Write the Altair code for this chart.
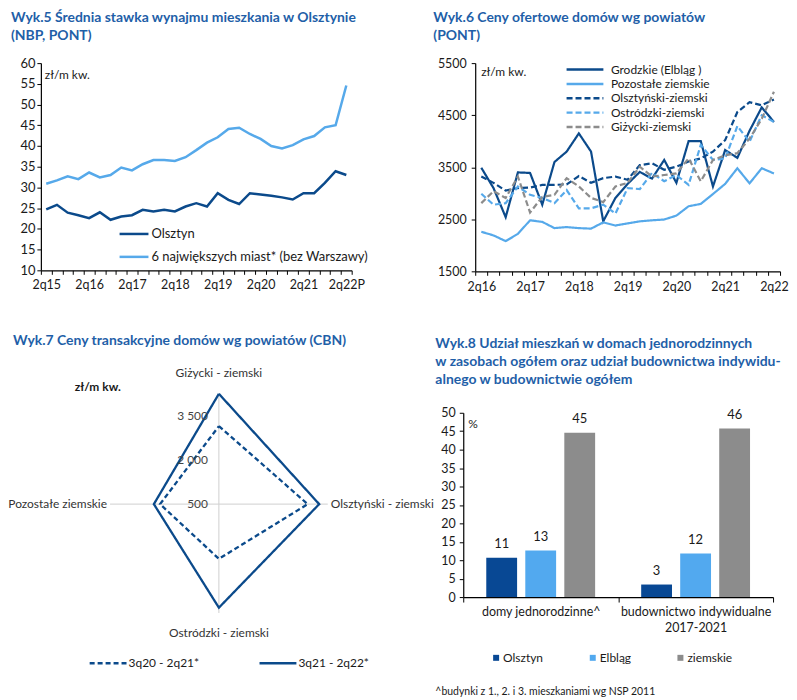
import altair as alt
import pandas as pd

FONT = "Lato"
TITLE_COLOR = "#1f5fa8"
DARK = "#0b4a8b"
LIGHT = "#56a9ea"
GRAY = "#8c8c8c"
TXT = "#1a1a1a"


def quarters(start_q, start_y, n):
    out = []
    for i in range(n):
        k = start_q - 1 + i
        out.append(f"{k % 4 + 1}q{start_y + k // 4}")
    return out


# ---------------- Wyk.5 data
q5 = quarters(2, 15, 29)
q5[-1] = q5[-1] + "P"
olsztyn = [24.7, 25.8, 23.9, 23.3, 22.6, 24.0, 22.2, 23.0, 23.3, 24.6, 24.2, 24.6, 24.2, 25.4,
           26.2, 25.4, 28.6, 27.0, 26.0, 28.6, 28.3, 28.0, 27.6, 27.1, 28.6, 28.6, 31.1, 33.9, 33.0]
miasta6 = [30.9, 31.7, 32.7, 32.0, 33.6, 32.4, 33.0, 34.8, 34.1, 35.6, 36.6, 36.6, 36.4, 37.3,
           39.0, 40.8, 42.1, 44.1, 44.4, 42.9, 41.7, 40.0, 39.4, 40.2, 41.6, 42.4, 44.5, 45.0, 54.6]
series5 = ["Olsztyn", "6 największych miast* (bez Warszawy)"]

# ---------------- Wyk.6 data
q6 = quarters(2, 16, 25)
grodzkie = [3490, 3100, 2540, 3400, 3390, 2780, 3600, 3800, 4150, 3800, 2460, 2910, 3180, 3410,
            3280, 3640, 3200, 4000, 4000, 3130, 3830, 3680, 4200, 4650, 4370]
pozostale = [2260, 2190, 2080, 2220, 2480, 2450, 2330, 2350, 2330, 2320, 2440, 2380, 2420, 2460,
             2480, 2495, 2570, 2750, 2795, 2985, 3180, 3480, 3190, 3480, 3380]
olsztynski = [3320, 3200, 3050, 3100, 3110, 3160, 3160, 3170, 3330, 3200, 3290, 3320, 3260, 3540,
              3575, 3450, 3510, 3610, 3670, 3800, 4020, 4560, 4750, 4690, 4800]
ostrodzki = [2990, 2780, 2810, 3130, 2970, 2910, 2810, 3060, 2710, 2710, 2780, 2610, 3100, 3080,
             3390, 3230, 3350, 3160, 3930, 3640, 3670, 4290, 3990, 4500, 4370]
gizycki = [2810, 3040, 2910, 3320, 2630, 2930, 2970, 3290, 3130, 2910, 2830, 3130, 3200, 3510,
           3320, 3350, 3380, 3670, 3230, 3640, 3730, 3770, 4050, 4430, 4950]
series6 = ["Grodzkie (Elbląg )", "Pozostałe ziemskie", "Olsztyński-ziemski",
           "Ostródzki-ziemski", "Giżycki-ziemski"]

# ---------------- Wyk.7 data
radar_cats = ["Giżycki - ziemski", "Olsztyński - ziemski", "Ostródzki - ziemski", "Pozostałe ziemskie"]
radar_series = ["3q20 - 2q21*", "3q21 - 2q22*"]
radar_prev = [3150, 3520, 2360, 2500]
radar_curr = [4250, 3910, 4020, 2710]
radar_ticks = [500, 2000, 3500]
radar_tick_labels = ["500", "2 000", "3 500"]
radar_min = 500
radar_axis_max = 4200

# ---------------- Wyk.8 data
groups8 = ["domy jednorodzinne^", "budownictwo indywidualne\n2017-2021"]
series8 = ["Olsztyn", "Elbląg", "ziemskie"]
vals8_g1 = [10.7, 12.6, 44.6]
vals8_g2 = [3.4, 11.8, 45.7]
footnote = "^budynki z 1., 2. i 3. mieszkaniami wg NSP 2011"

LINE_SYM_6 = "M-3.08,0H3.08"     # ~37 px stroke at symbolSize 144
LINE_SYM_7 = "M-2.85,0H2.85"     # ~37 px stroke at symbolSize 169
LINE_SYM_5 = "M-2.23,0H2.23"     # ~29 px stroke at symbolSize 169


def title(lines, dx, offset):
    return alt.TitleParams(text=lines, anchor="start", frame="group", dx=dx, offset=offset,
                           fontSize=14, fontWeight="bold", color=TITLE_COLOR, font=FONT,
                           lineHeight=18)


# ================= Chart 5
df5 = pd.DataFrame({"q": q5 * 2, "s": [series5[0]] * len(q5) + [series5[1]] * len(q5),
                    "v": olsztyn + miasta6})
x5 = alt.X("q:N", sort=q5, bandPosition=0.5,
           scale=alt.Scale(type="band", paddingInner=0, paddingOuter=0),
           axis=alt.Axis(title=None, labelAngle=0, tickBand="extent", labelOverlap=False,
                         labelExpr="indexof(datum.label, '2q') == 0 ? datum.label : ''",
                         tickSize=4, labelPadding=4, labelFontSize=12.5))
y5 = alt.Y("v:Q", scale=alt.Scale(domain=[10, 60], nice=False, zero=False),
           axis=alt.Axis(title=None, values=list(range(10, 61, 5)), tickSize=4,
                         labelPadding=2, labelFontSize=13))
lines5 = alt.Chart(df5).mark_line(strokeWidth=2.5).encode(
    x=x5, y=y5,
    color=alt.Color("s:N", sort=series5, scale=alt.Scale(domain=series5, range=[DARK, LIGHT]),
                    legend=alt.Legend(title=None, orient="none", legendX=85.5, legendY=163.5,
                                      symbolType=LINE_SYM_5, symbolSize=169,
                                      symbolStrokeWidth=2.5,
                                      labelFontSize=13, labelFont=FONT, labelColor=TXT,
                                      rowPadding=8, labelOffset=9.5, padding=0, labelLimit=300)))
unit5 = alt.Chart(pd.DataFrame({"t": ["zł/m kw."]})).mark_text(
    align="left", baseline="middle", fontSize=12, color=TXT).encode(
    x=alt.value(4), y=alt.value(12), text="t:N")
c5 = alt.layer(lines5, unit5).properties(
    width=312, height=208,
    title=title(["Wyk.5 Średnia stawka wynajmu mieszkania w Olsztynie", "(NBP, PONT)"], -30, 14))

# ================= Chart 6
df6 = pd.DataFrame({
    "q": q6 * 5,
    "s": sum([[s] * len(q6) for s in series6], []),
    "v": grodzkie + pozostale + olsztynski + ostrodzki + gizycki})
x6 = alt.X("q:N", sort=q6, bandPosition=0.5,
           scale=alt.Scale(type="band", paddingInner=0, paddingOuter=0, range=[12, 318]),
           axis=alt.Axis(title=None, labelAngle=0, tickBand="extent", labelOverlap=False,
                         labelExpr="indexof(datum.label, '2q') == 0 ? datum.label : ''",
                         tickSize=4, labelPadding=5, labelFontSize=12.5))
y6 = alt.Y("v:Q", scale=alt.Scale(domain=[1500, 5500], nice=False, zero=False),
           axis=alt.Axis(title=None, values=[1500, 2500, 3500, 4500, 5500], format="d",
                         tickSize=4, labelPadding=5, labelFontSize=12.5, offset=-12))
leg6 = alt.Legend(title=None, orient="none", legendX=114.7, legendY=-1,
                  symbolType=LINE_SYM_6, symbolSize=144, symbolStrokeWidth=2.5,
                  labelFontSize=12, labelFont=FONT, labelColor=TXT, rowPadding=0.4,
                  labelOffset=18.5, padding=0)
lines6 = alt.Chart(df6).mark_line(strokeWidth=2.2).encode(
    x=x6, y=y6,
    color=alt.Color("s:N", sort=series6,
                    scale=alt.Scale(domain=series6, range=[DARK, LIGHT, DARK, LIGHT, GRAY]),
                    legend=leg6),
    strokeDash=alt.StrokeDash("s:N", sort=series6,
                              scale=alt.Scale(domain=series6,
                                              range=[[1, 0], [1, 0], [6, 3], [6, 3], [6, 3]]),
                              legend=leg6))
unit6 = alt.Chart(pd.DataFrame({"t": ["zł/m kw."]})).mark_text(
    align="left", baseline="middle", fontSize=12, color=TXT).encode(
    x=alt.value(18), y=alt.value(9), text="t:N")
c6 = alt.layer(lines6, unit6).properties(
    width=318, height=209,
    title=title(["Wyk.6 Ceny ofertowe domów wg powiatów", "(PONT)"], -30, 14))

# ================= Chart 7 (radar)
rows = []
for s, vals in zip(radar_series, [radar_prev, radar_curr]):
    for k in range(5):
        rows.append({"s": s, "k": k, "cat": radar_cats[k % 4], "v": vals[k % 4]})
df7 = pd.DataFrame(rows)
df7_axes = pd.DataFrame({"k": list(range(4)), "cat": radar_cats, "v": [radar_axis_max] * 4})
df7_ticks = pd.DataFrame({"k": [0] * len(radar_ticks), "v": radar_ticks, "lab": radar_tick_labels})

XD = [-6051, 4514]
YD = [-3159, 3105]


def polar(ch):
    return ch.transform_calculate(
        a="datum.k * PI / 2", r=f"datum.v - {radar_min}", z="0"
    ).transform_calculate(
        px="datum.r * sin(datum.a)", py="datum.r * cos(datum.a)")


xr = alt.X("px:Q", scale=alt.Scale(domain=XD, nice=False, zero=False), axis=None)
yr = alt.Y("py:Q", scale=alt.Scale(domain=YD, nice=False, zero=False), axis=None)

axes7 = polar(alt.Chart(df7_axes)).mark_rule(color="#cfcfcf", strokeWidth=1).encode(
    x=alt.X("z:Q", scale=alt.Scale(domain=XD, nice=False, zero=False), axis=None),
    y=alt.Y("z:Q", scale=alt.Scale(domain=YD, nice=False, zero=False), axis=None),
    x2="px:Q", y2="py:Q")
radar = polar(alt.Chart(df7)).mark_line(strokeWidth=2.3, color=DARK).encode(
    x=xr, y=yr, order="k:O",
    strokeDash=alt.StrokeDash("s:N", sort=radar_series,
                              scale=alt.Scale(domain=radar_series, range=[[5, 3], [1, 0]]),
                              legend=alt.Legend(title=None, orient="none", legendX=59.5,
                                                legendY=243.5, direction="horizontal",
                                                columns=2, columnPadding=54.5,
                                                symbolType=LINE_SYM_7, symbolSize=169,
                                                symbolStrokeWidth=2.5, symbolStrokeColor=DARK,
                                                labelFontSize=12, labelFont=FONT, labelColor=TXT,
                                                labelOffset=12.5, padding=0)))
ticks7 = polar(alt.Chart(df7_ticks)).mark_text(
    align="right", baseline="middle", dx=-11, fontSize=12, color="#444444").encode(
    x=xr, y=yr, text="lab:N")


def cat_label(k, **kw):
    return polar(alt.Chart(df7_axes)).transform_filter(f"datum.k == {k}").mark_text(
        fontSize=12, color="#333333", **kw).encode(x=xr, y=yr, text="cat:N")


lab_top = cat_label(0, align="center", baseline="middle", dy=-22)
lab_right = cat_label(1, align="left", baseline="middle", dx=3)
lab_bottom = cat_label(2, align="center", baseline="middle", dy=20)
lab_left = cat_label(3, align="right", baseline="middle", dx=-3)
unit7 = alt.Chart(pd.DataFrame({"t": ["zł/m kw."]})).mark_text(
    align="left", baseline="middle", fontSize=12, fontWeight="bold", color=TXT).encode(
    x=alt.value(34), y=alt.value(-26), text="t:N")
c7 = alt.layer(axes7, radar, ticks7, lab_top, lab_right, lab_bottom, lab_left, unit7).properties(
    width=312, height=185,
    title=title("Wyk.7 Ceny transakcyjne domów wg powiatów (CBN)", -28, 19))

# ================= Chart 8
df8 = pd.DataFrame({"g": [groups8[0]] * 3 + [groups8[1]] * 3, "s": series8 * 2,
                    "v": vals8_g1 + vals8_g2})
x8 = alt.X("g:N", sort=groups8, scale=alt.Scale(paddingInner=0, paddingOuter=0),
           axis=alt.Axis(title=None, labelAngle=0, tickBand="extent", tickSize=5,
                         labelPadding=4, labelFontSize=12.5, labelLineHeight=16,
                         labelExpr="split(datum.label, '\\n')"))
xo8 = alt.XOffset("s:N", sort=series8, scale=alt.Scale(paddingInner=0.21, paddingOuter=0.59))
y8 = alt.Y("v:Q", stack=None, scale=alt.Scale(domain=[0, 50], nice=False),
           axis=alt.Axis(title=None, values=list(range(0, 51, 5)), tickSize=4,
                         labelPadding=4, labelFontSize=12.5))
bars8 = alt.Chart(df8).mark_bar().encode(
    x=x8, xOffset=xo8, y=y8,
    color=alt.Color("s:N", sort=series8,
                    scale=alt.Scale(domain=series8, range=["#084894", "#52a9ef", GRAY]),
                    legend=alt.Legend(title=None, orient="none", legendX=27, legendY=240,
                                      direction="horizontal", columns=3, gridAlign="none",
                                      columnPadding=43, symbolType="square", symbolSize=36,
                                      labelFontSize=12, labelFont=FONT, labelColor=TXT,
                                      labelOffset=1, padding=0)))
text8 = alt.Chart(df8).mark_text(baseline="bottom", dy=-7, fontSize=13, color=TXT).encode(
    x=x8, xOffset=xo8, y=y8, text=alt.Text("v:Q", format=".0f"))
pct8 = alt.Chart(pd.DataFrame({"t": ["%"]})).mark_text(
    align="left", baseline="middle", fontSize=12, color=TXT).encode(
    x=alt.value(5), y=alt.value(11), text="t:N")
foot8 = alt.Chart(pd.DataFrame({"t": [footnote]})).mark_text(
    align="left", baseline="middle", fontSize=10.5, color=TXT).encode(
    x=alt.value(-28), y=alt.value(280), text="t:N")
c8 = alt.layer(bars8, text8, pct8, foot8).properties(
    width=311, height=185,
    title=title(["Wyk.8 Udział mieszkań w domach jednorodzinnych",
                 "w zasobach ogółem oraz udział budownictwa indywidu-",
                 "alnego w budownictwie ogółem"], -28, 20))

chart = alt.concat(c5, c6, c7, c8, columns=2, bounds="flush", align="each",
                   spacing={"row": 142, "column": 112}).resolve_scale(
    color="independent", strokeDash="independent").resolve_legend(
    color="independent", strokeDash="independent").properties(
    padding={"top": 2, "left": 0, "right": 0, "bottom": 0}).configure(
    font=FONT).configure_view(stroke=None).configure_axis(
    domainColor="#000000", tickColor="#000000", labelColor=TXT, labelFont=FONT, grid=False,
    domainWidth=1.2, tickWidth=1).configure_text(font=FONT)

chart.save("out.html", embed_options={"renderer": "svg", "actions": False})
